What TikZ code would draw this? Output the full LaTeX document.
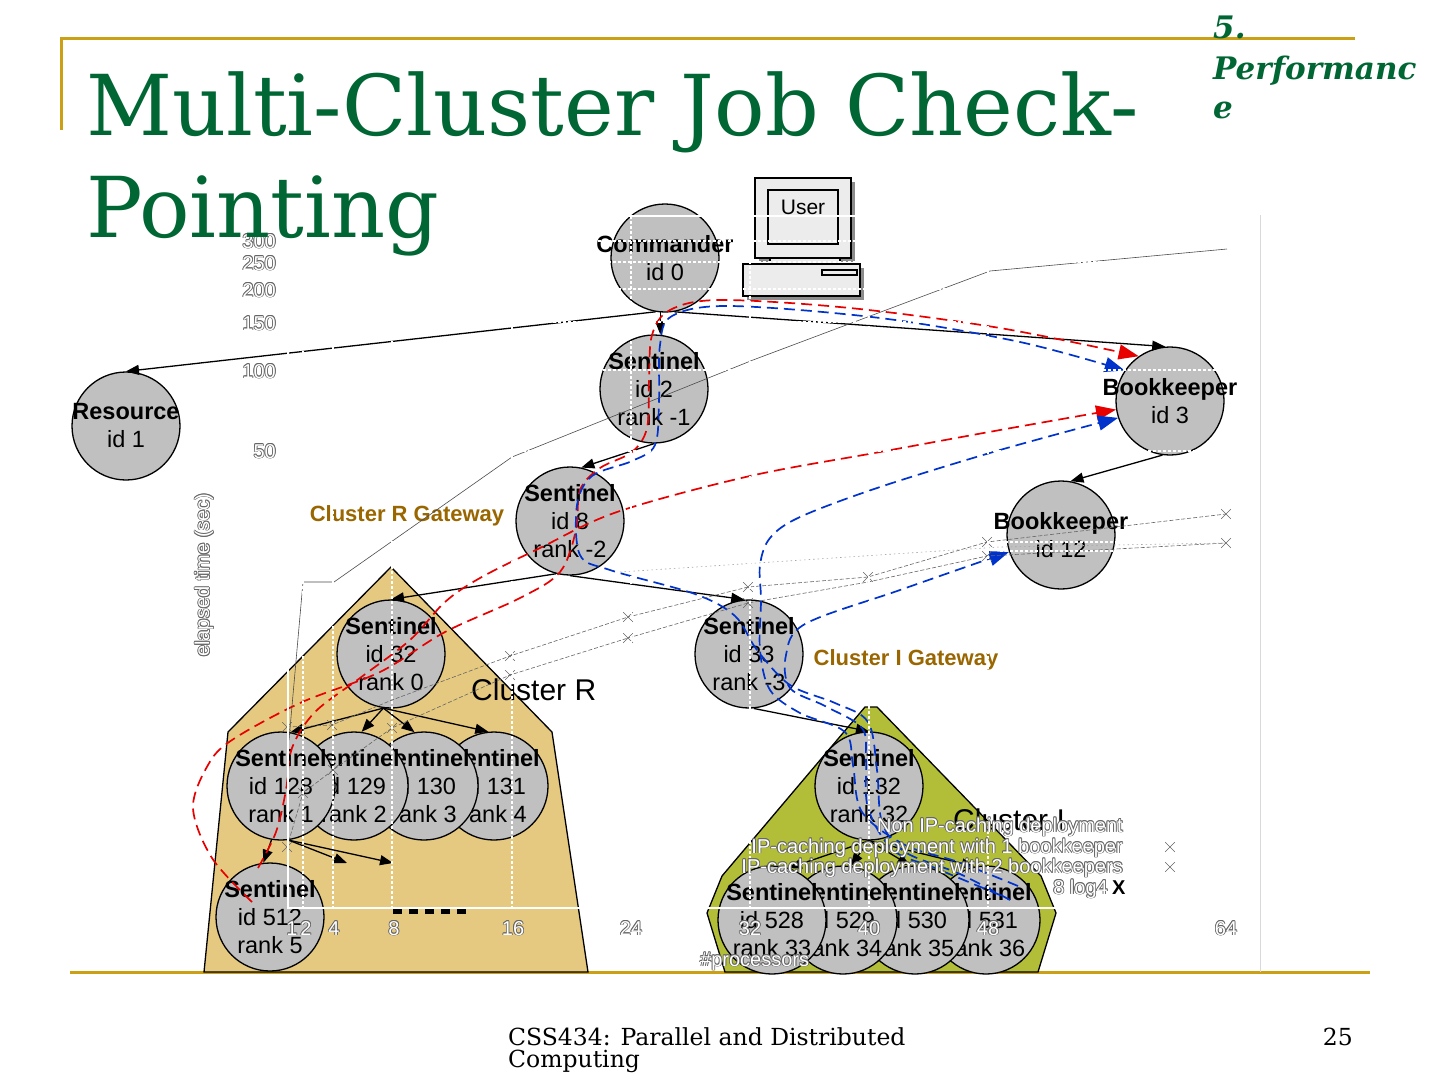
\documentclass[tikz,border=0pt]{standalone}
\usepackage{fontspec}
\setmainfont{DejaVu Serif}
\newfontfamily\arialf{Liberation Sans}
\newfontfamily\titlef{DejaVu Serif}
\usetikzlibrary{arrows.meta,shapes.misc}
\definecolor{titlegreen}{RGB}{0,102,51}
\definecolor{goldline}{RGB}{204,160,20}
\definecolor{nodegray}{RGB}{192,192,192}
\definecolor{clusterR}{RGB}{229,201,128}
\definecolor{clusterI}{RGB}{178,190,55}
\definecolor{gatebrown}{RGB}{153,102,0}
\definecolor{redd}{RGB}{232,0,0}
\definecolor{blued}{RGB}{0,51,204}
\definecolor{pcgray}{RGB}{236,236,236}
\newcommand\pnode[3]{%
  \node[proc] (#1) at #2 {};
  \node[ptext] (#1t) at (#1) {#3};}
\newcommand\olabel[3][]{%
  \foreach \ox/\oy in {-.8/0,.8/0,0/-.8,0/.8,-.6/-.6,.6/.6,-.6/.6,.6/-.6}{%
    \node[chartlbl,text=black!60,xshift=\ox pt,yshift=\oy pt,#1] at #2 {#3};}%
  \node[chartlbl,text=white,#1] at #2 {#3};}
\begin{document}
\begin{tikzpicture}[x=1pt,y=-1pt,
  proc/.style={circle,draw=black,line width=1.3pt,fill=nodegray,minimum size=108pt,inner sep=0pt},
  ptext/.style={align=center,font=\arialf\fontsize{23.5}{28}\selectfont,inner sep=0pt},
  conn/.style={line width=1.3pt,-{Triangle[length=13pt,width=10pt]}},
  reddash/.style={draw=redd,line width=1.7pt,dash pattern=on 11pt off 6pt,-{Triangle[length=20pt,width=15pt]}},
  bluedash/.style={draw=blued,line width=1.7pt,dash pattern=on 11pt off 6pt,-{Triangle[length=20pt,width=15pt]}},
  clusterbox/.style={draw=black,line width=1.3pt},
  gate/.style={font=\arialf\bfseries\fontsize{22}{24}\selectfont,text=gatebrown,inner sep=0pt},
  clab/.style={font=\arialf\fontsize{30}{32}\selectfont,inner sep=0pt},
  chartlbl/.style={font=\arialf\fontsize{20}{22}\selectfont,inner sep=0pt},
  chartline/.style={black!70,line width=0.6pt},
  chartdash/.style={black!60,line width=0.6pt,dash pattern=on 4pt off 2pt},
  xmk/.style={cross out,draw=black!60,line width=0.6pt,minimum size=9pt,inner sep=0pt},
  wgrid/.style={white,line width=1.2pt,dash pattern=on 3pt off 2pt},
  pcbox/.style={draw=black,line width=1.4pt,fill=pcgray},
  pcshadow/.style={fill=black!45},
  titletext/.style={anchor=base west,inner sep=0pt,text=titlegreen,font=\titlef\fontsize{84}{96}\selectfont},
  sectext/.style={anchor=base west,inner sep=0pt,text=titlegreen,font=\titlef\bfseries\itshape\fontsize{31}{33}\selectfont},
  foottext/.style={inner sep=0pt,font=\titlef\fontsize{23.5}{25}\selectfont}]
\useasboundingbox (0,0) rectangle (1440,1080);
\fill[white] (0,0) rectangle (1440,1080);
% slide frame
\draw[goldline,line width=3pt] (60,38) -- (1355,38);
\draw[goldline,line width=3pt] (61.5,38) -- (61.5,130);
\draw[goldline,line width=3pt] (70,972) -- (1370,972);
\fill[white] (180,215) rectangle (1260,971);
\draw[black!15,line width=1pt] (1260,215) -- (1260,972);
% clusters
\filldraw[clusterbox,fill=clusterR] (391,567) -- (552,732) -- (588,972) -- (204,972) -- (228,732) -- cycle;
\filldraw[clusterbox,fill=clusterI] (865,707) -- (877,707) -- (1041,876) -- (1056,913) -- (1038,972) -- (725,972) -- (707,913) -- (722,876) -- cycle;
% user computer
\fill[pcshadow] (759,182) rectangle (855,262);
\draw[pcbox] (755,178) rectangle (851,258);
\draw[pcbox] (768,190) rectangle (838,244);
\node[font=\arialf\fontsize{21}{22}\selectfont,inner sep=0pt] (user) at (803,207) {User};
\draw[pcbox] (770,258) rectangle (840,264);
\fill[pcshadow] (747,268) rectangle (864,300);
\draw[pcbox] (743,264) rectangle (860,296);
\draw[black,line width=1.2pt] (822,270) rectangle (857,275);
% processes
\pnode{cmd}{(665,258)}{\textbf{Commander}\\id 0}
\pnode{res}{(126,426)}{\textbf{Resource}\\id 1}
\pnode{s2}{(654,389)}{\textbf{Sentinel}\\id 2\\rank -1}
\pnode{bk3}{(1170,401)}{\textbf{Bookkeeper}\\id 3}
\pnode{s8}{(570,521)}{\textbf{Sentinel}\\id 8\\rank -2}
\pnode{bk12}{(1061,535)}{\textbf{Bookkeeper}\\id 12}
\pnode{s32}{(391,654)}{\textbf{Sentinel}\\id 32\\rank 0}
\pnode{s33}{(749,654)}{\textbf{Sentinel}\\id 33\\rank -3}
\pnode{s131}{(494,786)}{\textbf{Sentinel}\\id 131\\rank 4}
\pnode{s130}{(424,786)}{\textbf{Sentinel}\\id 130\\rank 3}
\pnode{s129}{(354,786)}{\textbf{Sentinel}\\id 129\\rank 2}
\pnode{s128}{(281,786)}{\textbf{Sentinel}\\id 128\\rank 1}
\pnode{s512}{(270,917)}{\textbf{Sentinel}\\id 512\\rank 5}
\pnode{s132}{(869,786)}{\textbf{Sentinel}\\id 132\\rank 32}
\pnode{s531}{(986,920)}{\textbf{Sentinel}\\id 531\\rank 36}
\pnode{s530}{(915,920)}{\textbf{Sentinel}\\id 530\\rank 35}
\pnode{s529}{(843,920)}{\textbf{Sentinel}\\id 529\\rank 34}
\pnode{s528}{(772,920)}{\textbf{Sentinel}\\id 528\\rank 33}
% tree connectors
\draw[conn] (cmd.-100) -- (res.north);
\draw[conn] (cmd.-80) -- (bk3.95);
\draw[conn] (cmd.-95) -- (cmd.-95 |- s2.north);
\draw[conn] (s2.south) -- (s8.78);
\draw[conn] (bk3.-98) -- (bk12.80);
\draw[conn] (s8.255) -- (s32.north);
\draw[conn] (s8.south) -- (s33.95);
\draw[conn] (s32.-98) -- (s128.80);
\draw[conn] (s32.-98) -- (s129.82);
\draw[conn] (s32.-98) -- (s130.100);
\draw[conn] (s32.-98) -- (s131.96);
\draw[conn] (s33.-85) -- (s132.north);
\draw[conn] (s132.south) -- (s528.72);
\draw[conn] (s132.south) -- (s529.82);
\draw[conn] (s132.south) -- (s530.95);
\draw[conn] (s132.south) -- (s531.102);
\coordinate (more1) at (347,863);
\coordinate (more2) at (393,863);
\draw[conn] (s128.-100) -- (s512.97);
\draw[conn] (s128.-82) -- (more1);
\draw[conn] (s128.-82) -- (more2);
\coordinate (dotsA) at (393,911);
\coordinate (dotsB) at (470,911);
\draw[black,line width=6pt,dash pattern=on 9pt off 7pt] (dotsA) -- (dotsB);
% checkpoint message paths
\draw[reddash] plot[smooth,tension=0.55] coordinates {(252,902) (212,858) (193,808) (208,765) (232,740) (300,703) (380,672) (445,632) (520,598) (560,572) (576,530) (580,490) (600,468) (632,452) (647,428) (649,380) (652,335) (670,310) (720,300) (850,308) (1000,328) (bk3.125)};
\draw[reddash] plot[smooth,tension=0.55] coordinates {(258,868) (276,832) (286,790) (292,748) (315,712) (360,678) (410,640) (445,602) (480,578) (540,548) (617,512) (750,476) (880,452) (1000,430) (bk3.189)};
\draw[bluedash] plot[smooth,tension=0.55] coordinates {(1010,900) (960,874) (905,852) (882,822) (877,770) (868,722) (835,703) (790,685) (757,650) (735,616) (695,594) (610,570) (580,555) (577,505) (592,476) (632,461) (655,445) (659,400) (660,345) (672,316) (730,306) (880,318) (1020,342) (bk3.146)};
\draw[bluedash] plot[smooth,tension=0.55] coordinates {(1018,886) (958,862) (905,845) (862,812) (853,765) (845,732) (800,713) (770,690) (760,650) (761,600) (760,565) (770,538) (800,517) (880,487) (1000,450) (bk3.198)};
\draw[bluedash] plot[smooth,tension=0.55] coordinates {(1000,895) (935,868) (893,850) (868,808) (866,760) (862,728) (825,706) (790,688) (786,655) (805,624) (900,590) (bk12.198)};
% labels
\node[gate] (gateR) at (407,516) {Cluster R Gateway};
\node[gate] (gateI) at (906,660) {Cluster I Gateway};
\node[clab,anchor=base west] (clR) at (471,700) {Cluster R};
\node[clab,anchor=base west] (clI) at (953,830) {Cluster I};
% chart overlay
\draw[chartline] (289,740) -- (303,582) -- (334,582) -- (512,457) -- (753,360) -- (990,271) -- (1227,249);
\draw[chartdash] (287,727) -- (332,725) -- (392,700) -- (510,656) -- (628,617) -- (748,587) -- (868,577) -- (987,542) -- (1226,514);
\draw[chartdash] (287,847) -- (303,793) -- (333,770) -- (392,728) -- (510,675) -- (628,638) -- (748,603) -- (868,582) -- (987,556) -- (1226,543);
\draw[black!35,line width=0.6pt,dash pattern=on 1.5pt off 3pt] (620,572) -- (1000,547) -- (1226,543);
\foreach \p in {(287,727),(332,725),(510,656),(628,617),(748,587),(868,577),(987,542),(1226,514),
                (287,847),(303,793),(333,770),(392,728),(510,675),(628,638),(748,603),(987,556),(1226,543),
                (1170,847),(1170,867)}
  \node[xmk] at \p {};
\draw[white,line width=1.2pt] (288,216) -- (1226,216);
\draw[white,line width=1.2pt] (288,216) -- (288,908) -- (1226,908);
\foreach \gx in {303,333,392,512,631,750,869,988}
  \draw[wgrid] (\gx,216) -- (\gx,908);
\foreach \gy in {241,262,289,322,370,451}
  \draw[wgrid] (288,\gy) -- (1226,\gy);
\draw[wgrid] (1000,542) -- (1130,542);
\draw[wgrid] (1000,551) -- (1130,551);
\olabel[anchor=base east]{(276,248)}{300}
\olabel[anchor=base east]{(276,270)}{250}
\olabel[anchor=base east]{(276,297)}{200}
\olabel[anchor=base east]{(276,330)}{150}
\olabel[anchor=base east]{(276,378)}{100}
\olabel[anchor=base east]{(276,458)}{50}
\olabel[rotate=90]{(204,575)}{elapsed time (sec)}
\olabel[anchor=base]{(292,935)}{1}
\olabel[anchor=base]{(306,935)}{2}
\olabel[anchor=base]{(334,935)}{4}
\olabel[anchor=base]{(394,935)}{8}
\olabel[anchor=base]{(513,935)}{16}
\olabel[anchor=base]{(631,935)}{24}
\olabel[anchor=base]{(750,935)}{32}
\olabel[anchor=base]{(869,935)}{40}
\olabel[anchor=base]{(988,935)}{48}
\olabel[anchor=base]{(1226,935)}{64}
\olabel[anchor=base west]{(700,966)}{\#processors}
\olabel[anchor=base east]{(1123,832)}{Non IP-caching deployment}
\olabel[anchor=base east]{(1123,853)}{IP-caching deployment with 1 bookkeeper}
\olabel[anchor=base east]{(1123,873)}{IP-caching deployment with 2 bookkeepers}
\olabel[anchor=base east]{(1108,894)}{8 log4}
\node[chartlbl,font=\arialf\bfseries\fontsize{20}{22}\selectfont,anchor=base west] (legX) at (1112,894) {X};
% title and footer
\node[titletext] (title1) at (86,135) {Multi-Cluster Job Check-};
\node[titletext] (title2) at (86,237) {Pointing};
\node[sectext] (sec1) at (1213,38) {5.};
\node[sectext] (sec2) at (1213,79) {Performanc};
\node[sectext] (sec3) at (1213,118) {e};
\node[foottext,anchor=base west] (foot1) at (508,1045) {CSS434: Parallel and Distributed};
\node[foottext,anchor=base west] (foot2) at (508,1067) {Computing};
\node[foottext,anchor=base east] (pageno) at (1353,1045) {25};
\end{tikzpicture}
\end{document}
